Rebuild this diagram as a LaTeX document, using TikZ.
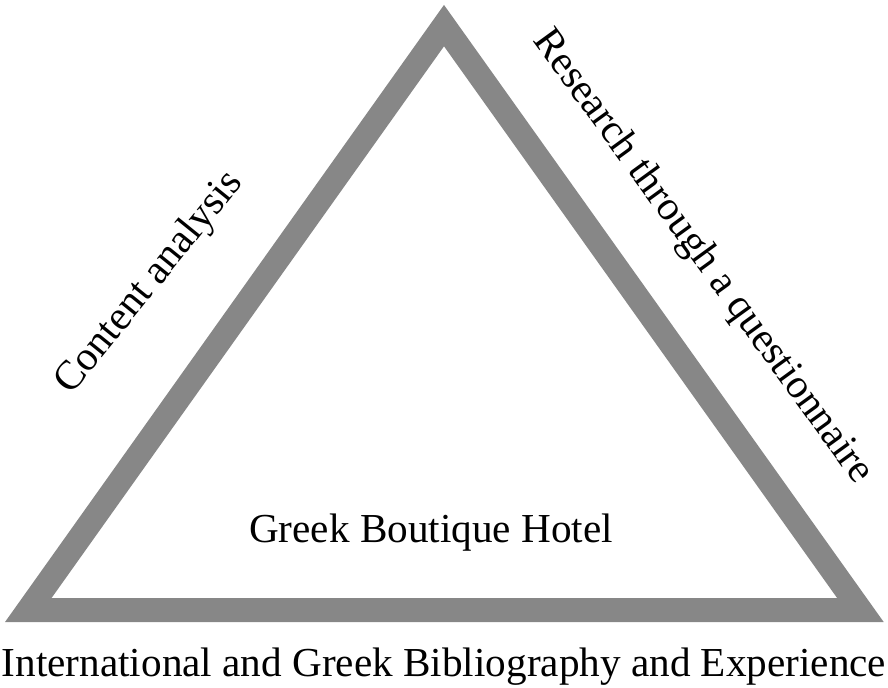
\documentclass[tikz,border=0pt]{standalone}
\usepackage{fontspec}
\setmainfont{Liberation Serif}
\usepackage{xcolor}
\usepackage{tikz}
\usetikzlibrary{positioning}
\definecolor{framegray}{RGB}{135,135,135}

\begin{document}
\begin{tikzpicture}[x=0.5pt, y=0.5pt, thick,
	side/.style={draw=framegray, line width=12pt, miter limit=10, line join=miter},
	lbl/.style={inner sep=0pt, font=\fontsize{20.6}{24}\selectfont}]
	\useasboundingbox (0,0) rectangle (888,687);
	
	% corners of the triangle
	\coordinate (top) at (444,661.4);
	\coordinate (left) at (28.3,77);
	\coordinate (right) at (860.4,77);
	
	% triangle
	\draw [side] (left) -- (top) -- (right) -- cycle;
	
	% sides
	\node [lbl, rotate=51] (content) at (150,404) {Content analysis};
	\node [lbl, rotate=-54] (research) at (702,430) {Research through a questionnaire};
	
	% centre, base
	\node [lbl, anchor=base] (hotel) at (431,145) {Greek Boutique Hotel};
	\node [lbl, anchor=base] (biblio) at (444,11) {International and Greek Bibliography and Experience};
	
\end{tikzpicture}
\end{document}
